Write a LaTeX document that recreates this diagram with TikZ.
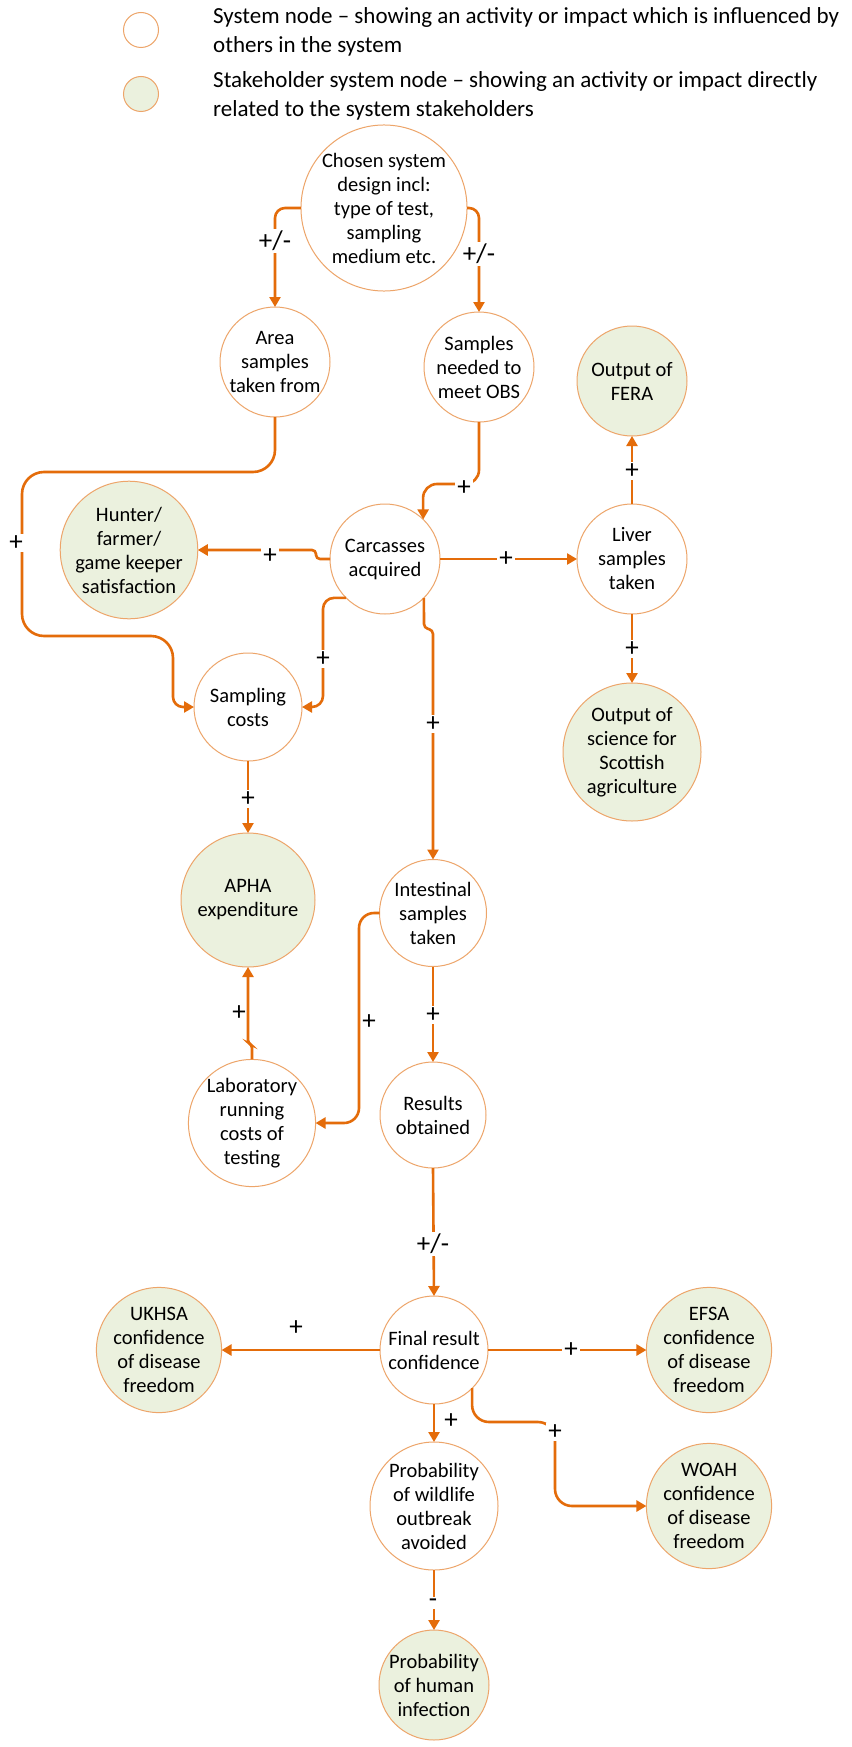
\documentclass[tikz,border=0pt]{standalone}
\usepackage{fontspec}
\setmainfont{Carlito}
\usetikzlibrary{arrows.meta}
\definecolor{lineor}{HTML}{E46C0A}
\definecolor{rimor}{HTML}{EDA56A}
\definecolor{stake}{HTML}{EBF1DE}
\begin{document}
\begin{tikzpicture}[x=1pt,y=-1pt,
  sysnode/.style={circle,draw=rimor,line width=1pt,fill=white,inner sep=0pt,outer sep=0pt,align=center,font=\fontsize{20.5}{24}\selectfont},
  stakenode/.style={sysnode,fill=stake},
  conn/.style={draw=lineor,line width=2.6pt,-{Triangle[length=10pt,width=11pt]}},
  lbl/.style={fill=white,inner sep=2pt,font=\fontsize{27}{30}\selectfont},
  lbln/.style={inner sep=1pt,font=\fontsize{27}{30}\selectfont},
  legtext/.style={anchor=west,align=left,inner sep=0pt,font=\fontsize{23}{28.5}\selectfont},
]
\useasboundingbox (0,0) rectangle (851,1747);
\fill[white] (0,0) rectangle (851,1747);

% legend
\node[sysnode,minimum size=35pt] (leg1) at (141,30) {};
\node[stakenode,minimum size=35pt] (leg2) at (141,94) {};
\node[legtext] (legt1) at (213,32) {System node – showing an activity or impact which is influenced by\\others in the system};
\node[legtext] (legt2) at (213,96) {Stakeholder system node – showing an activity or impact directly\\related to the system stakeholders};

% nodes
\node[sysnode,minimum size=148pt] (chosen) at (384,208) {Chosen system\\design incl:\\type of test,\\sampling\\medium etc.};
\node[sysnode,minimum size=110pt] (area) at (275,362) {Area\\samples\\taken from};
\node[sysnode,minimum size=110pt] (obs) at (479,367) {Samples\\needed to\\meet OBS};
\node[stakenode,minimum size=110pt] (fera) at (632,381) {Output of\\FERA};
\node[sysnode,minimum size=110pt] (carc) at (385,559) {Carcasses\\acquired};
\node[stakenode,minimum size=128pt] (hunter) at (129,550) {Hunter/\\farmer/\\game keeper\\satisfaction};
\node[sysnode,minimum size=110pt] (liver) at (632,559) {Liver\\samples\\taken};
\node[stakenode,minimum size=138pt] (sci) at (632,752) {Output of\\science for\\Scottish\\agriculture};
\node[sysnode,minimum size=108pt] (scost) at (248,707) {Sampling\\costs};
\node[stakenode,minimum size=134pt] (apha) at (248,900) {APHA\\expenditure};
\node[sysnode,minimum size=107pt] (intest) at (433,913) {Intestinal\\samples\\taken};
\node[sysnode,minimum size=124pt] (lab) at (252,1123) {Laboratory\\running\\costs of\\testing};
\node[sysnode,minimum size=106pt] (results) at (433,1115) {Results\\obtained};
\node[sysnode,minimum size=108pt] (final) at (434,1350) {Final result\\confidence};
\node[stakenode,minimum size=110pt] (ukhsa) at (159,1350) {UKHSA\\confidence\\of disease\\freedom};
\node[stakenode,minimum size=110pt] (efsa) at (709,1350) {EFSA\\confidence\\of disease\\freedom};
\node[sysnode,minimum size=128pt] (wild) at (434,1506) {Probability\\of wildlife\\outbreak\\avoided};
\node[stakenode,minimum size=110pt] (woah) at (709,1506) {WOAH\\confidence\\of disease\\freedom};
\node[stakenode,minimum size=110pt] (human) at (434,1685) {Probability\\of human\\infection};

% connectors
\draw[conn,rounded corners=10pt] (chosen.west) -| (area.north);
\draw[conn,rounded corners=10pt] (chosen.east) -| (obs.north);
\draw[conn,rounded corners=22pt] (area.south) -- (275,472) -- (22,472) -- (22,636) -- (173,636) [rounded corners=10pt] -- (173,707) -- (scost.west);
\draw[conn,rounded corners=14pt] (obs.south) -- (479,484) -- (423,484) -- (carc.46.4);
\draw[conn,rounded corners=4pt] (carc.west) -- (316,559) -- (316,550) -- (hunter.east);
\draw[conn] (carc.east) -- (liver.west);
\draw[conn] (liver.north) -- (fera.south);
\draw[conn] (liver.south) -- (sci.north);
\draw[conn,rounded corners=11pt] (carc.225) -- (323,597.9) -- (323,707) -- (scost.east);
\draw[conn,rounded corners=4pt] (carc.315) -- (424,628) -- (433,630) -- (intest.north);
\draw[conn] (scost.south) -- (apha.north);
\draw[conn,rounded corners=3pt] (lab.north) -- (252,1045) -- (248,1043) -- (apha.south);
\draw[conn,rounded corners=15pt] (intest.west) -- (359,913) -- (359,1123) -- (lab.east);
\draw[conn] (intest.south) -- (results.north);
\draw[conn] (results.south) -- (final.north);
\draw[conn] (final.west) -- (ukhsa.east);
\draw[conn] (final.east) -- (efsa.west);
\draw[conn] (final.south) -- (wild.north);
\draw[conn,rounded corners=17pt] (final.-45) -- (472,1422) -- (555,1422) -- (555,1506) -- (woah.west);
\draw[conn] (wild.south) -- (human.north);

% labels
\node[lbl] (l1) at (275,241) {+/-};
\node[lbl] (l2) at (479,254) {+/-};
\node[lbl] (l3) at (16,543) {+};
\node[lbl] (l4) at (464,488) {+};
\node[lbl] (l5) at (270,556) {+};
\node[lbl] (l6) at (506,559) {+};
\node[lbl] (l7) at (632,471) {+};
\node[lbl] (l8) at (632,649) {+};
\node[lbl] (l9) at (323,659) {+};
\node[lbl] (l10) at (433,724) {+};
\node[lbl] (l11) at (248,799) {+};
\node[lbln] (l12) at (239,1013) {+};
\node[lbln] (l13) at (369,1022) {+};
\node[lbl] (l14) at (433,1015) {+};
\node[lbl] (l15) at (433,1244) {+/-};
\node[lbln] (l16) at (296,1328) {+};
\node[lbl] (l17) at (571,1350) {+};
\node[lbln] (l18) at (451,1421) {+};
\node[lbl] (l19) at (555,1432) {+};
\node[lbl] (l20) at (433,1603) {-};
\end{tikzpicture}
\end{document}
